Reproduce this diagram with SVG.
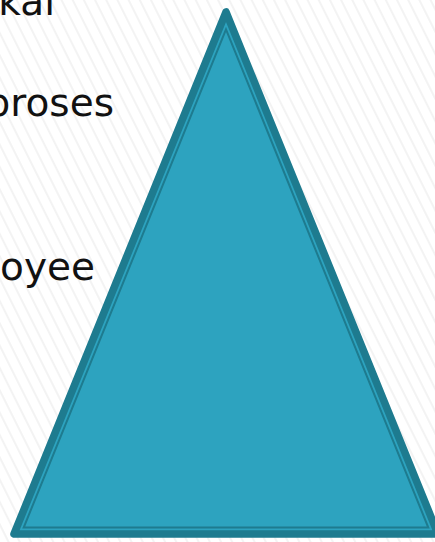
<svg xmlns="http://www.w3.org/2000/svg" width="435" height="542" viewBox="0 0 435 542">
  <defs>
    <!-- faint diagonal hatching on the page background -->
    <pattern id="hatch" width="10" height="10" patternUnits="userSpaceOnUse" patternTransform="rotate(-26.6)">
      <rect width="10" height="10" fill="#ffffff"/>
      <line x1="5" y1="0" x2="5" y2="10" stroke="#ebebeb" stroke-width="1.2"/>
    </pattern>
    <style>
      .label { font-family: "DejaVu Sans", "Liberation Sans", sans-serif; font-size: 39px; fill: #111111; text-anchor: end; }
      .outer { fill: #2da3bf; stroke: #1e7b8f; stroke-width: 7.5; stroke-linejoin: round; }
      .inner { fill: none; stroke: #1e7b8f; stroke-width: 2; stroke-linejoin: miter; }
    </style>
  </defs>

  <rect width="435" height="542" fill="url(#hatch)"/>

  <!-- bullet text, running in from the left edge -->
  <g id="labels">
    <text class="label" x="55" y="15">kal</text>
    <text class="label" x="114" y="116">proses</text>
    <text class="label" x="95" y="280">oyee</text>
  </g>

  <!-- pyramid -->
  <g id="pyramid">
    <polygon class="outer" points="226,12 14,534 438,534"/>
    <polygon class="inner" points="226,29.3 23.7,527.5 428.3,527.5"/>
  </g>
</svg>
